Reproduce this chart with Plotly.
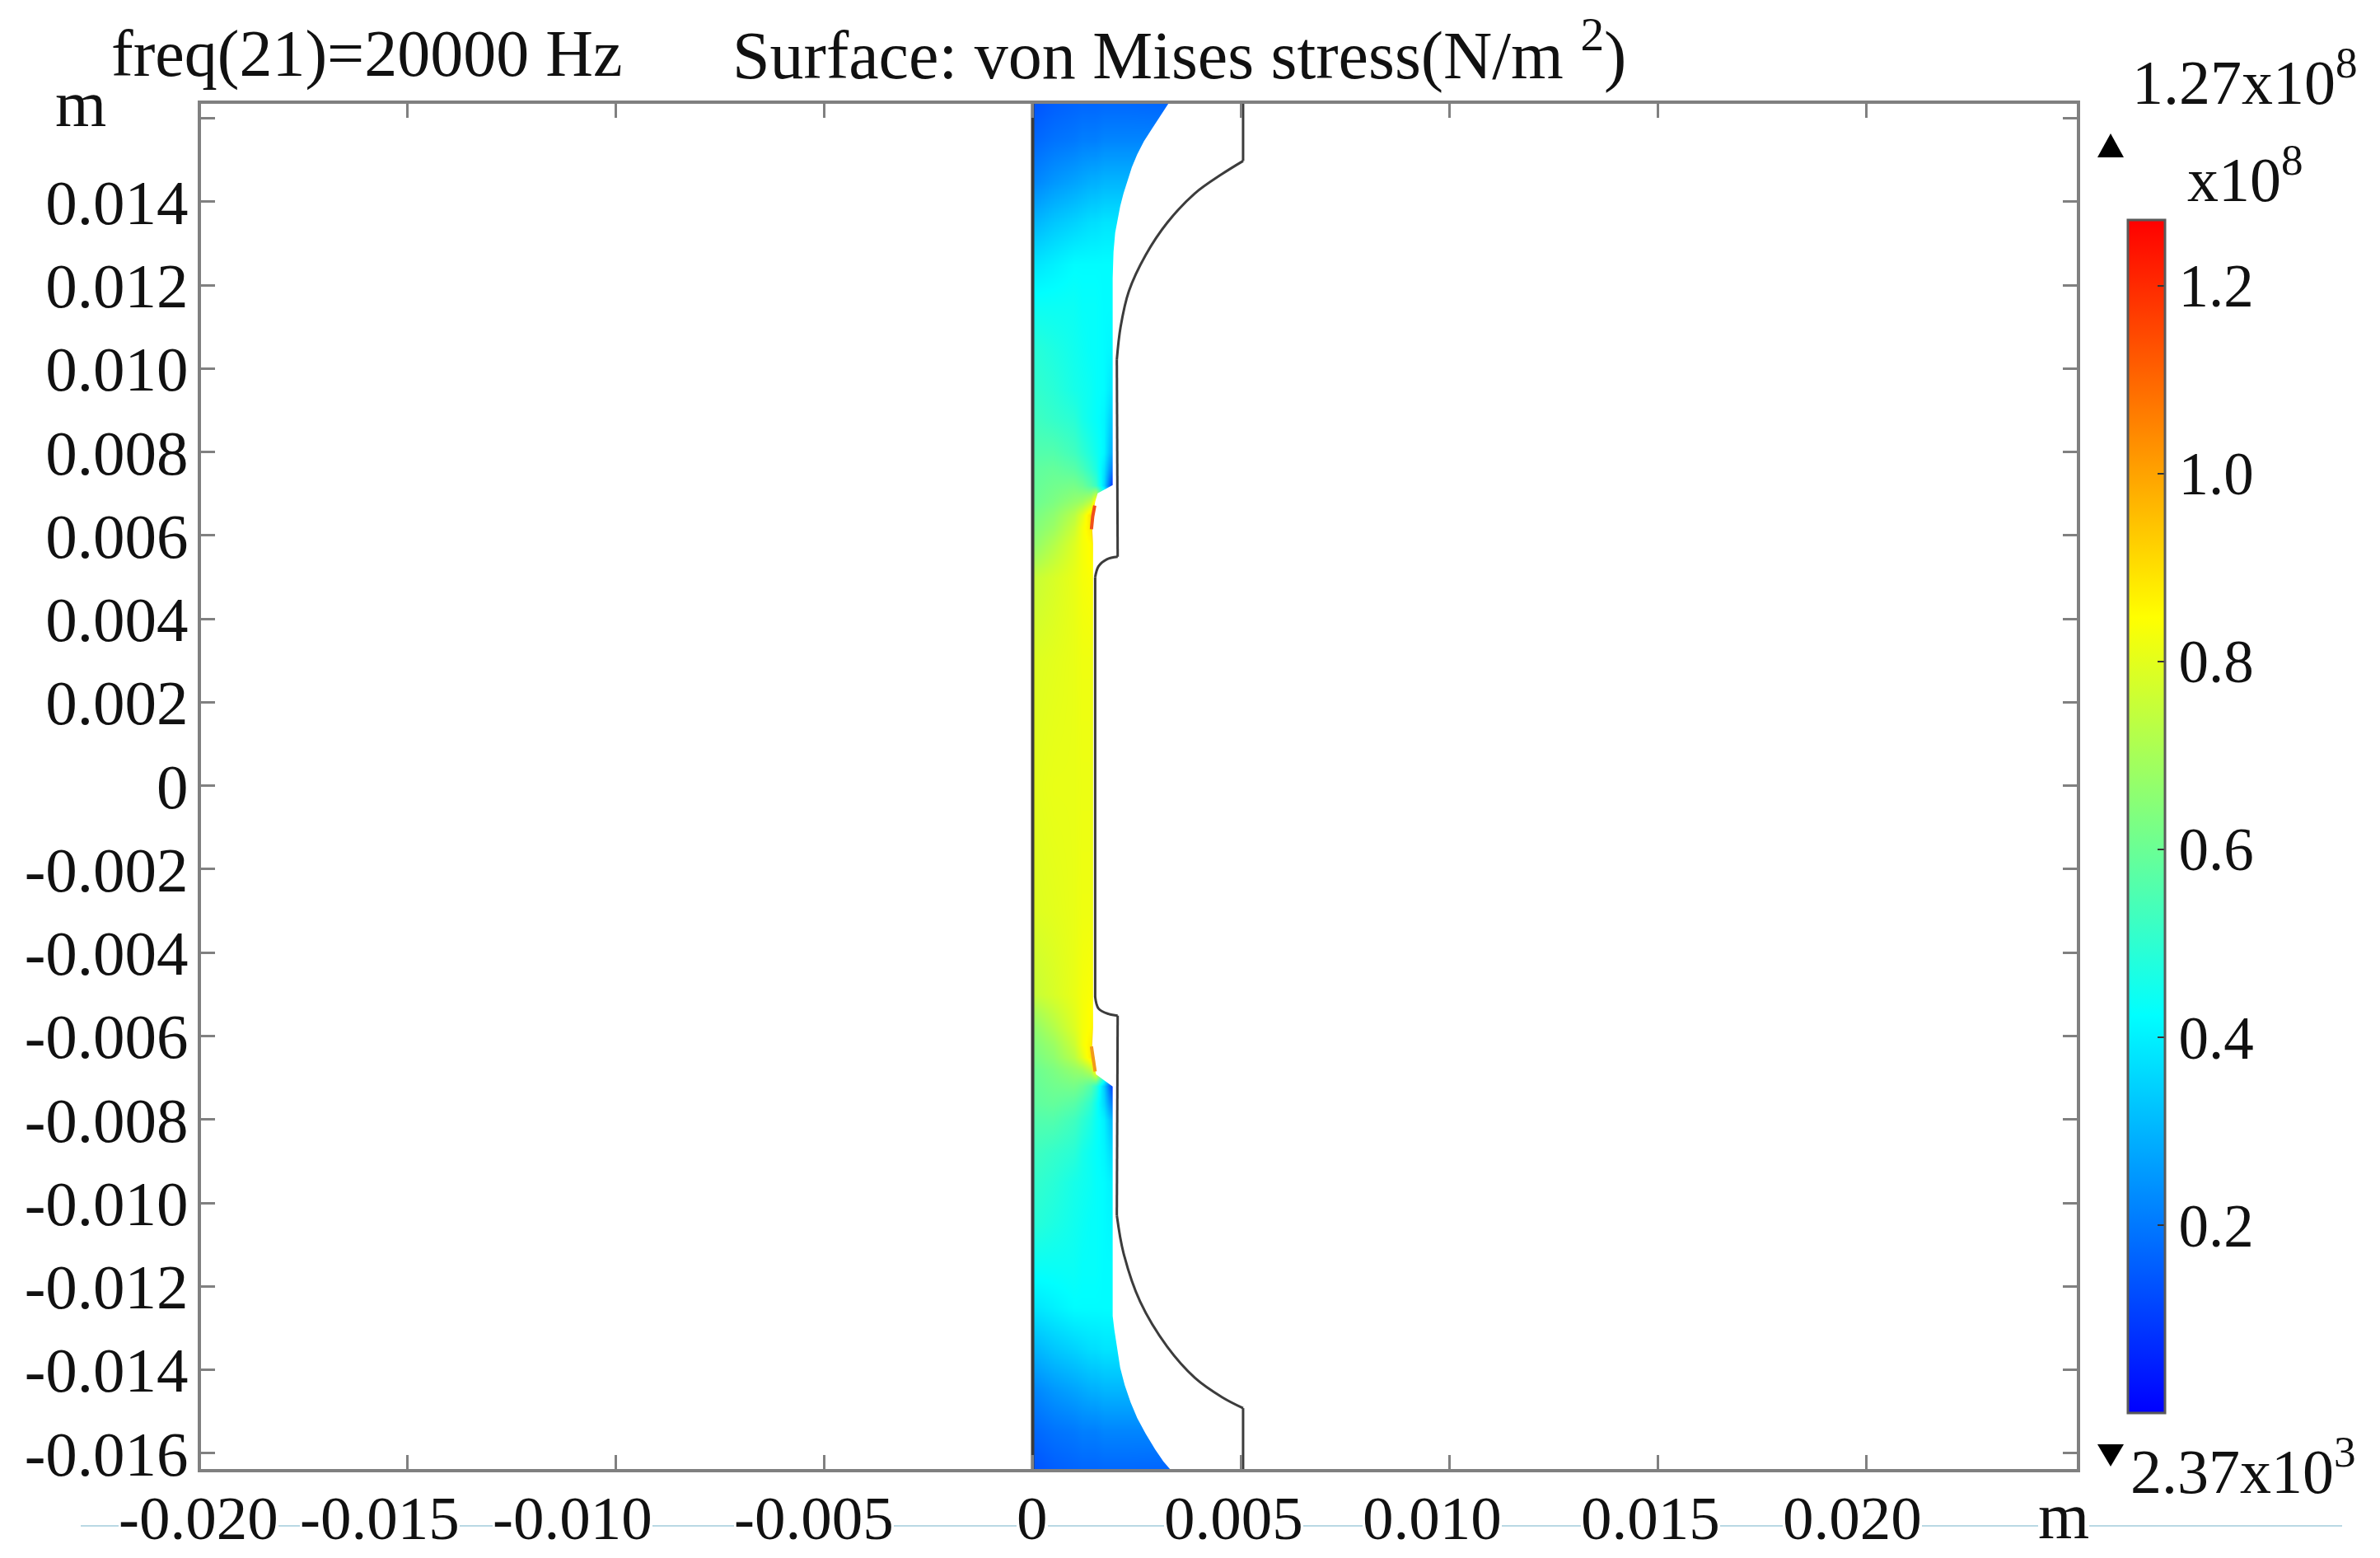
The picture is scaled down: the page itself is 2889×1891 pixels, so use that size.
import plotly.graph_objects as go

W, H = 2889, 1891
L, R, T, B = 244, 2521, 126, 1783
BODY = 8  # default page margin round the figure
FONT = "Liberation Serif"

# ---- data (stress in units of 1e8 N/m^2) ----
field_x = [0, 0.0005, 0.001, 0.0012, 0.0014, 0.0015, 0.0017, 0.0019, 0.0023, 0.0036]
field_y = [0.0168, 0.0155, 0.0145, 0.0135, 0.0125, 0.0115, 0.0105, 0.0095, 0.0088, 0.008,
           0.0076, 0.0072, 0.0068, 0.0065, 0.0062, 0.0058, 0.0054, 0.005, 0.003, 0,
           -0.003, -0.005, -0.0054, -0.0058, -0.0062, -0.0065, -0.0068, -0.0072, -0.0076, -0.008,
           -0.0088, -0.0095, -0.0105, -0.0115, -0.0125, -0.0135, -0.0145, -0.0155, -0.0168]
field_z = [
    [.12, .14, .15, .15, .15, .15, .15, .15, .15, .14],
    [.17, .19, .20, .21, .21, .21, .22, .22, .22, .22],
    [.22, .25, .27, .28, .29, .29, .30, .30, .30, .30],
    [.30, .33, .35, .36, .37, .37, .38, .38, .38, .38],
    [.38, .40, .42, .42, .42, .42, .42, .42, .42, .42],
    [.44, .44, .44, .43, .43, .43, .42, .42, .42, .42],
    [.49, .47, .45, .44, .43, .43, .42, .41, .41, .41],
    [.51, .49, .46, .45, .44, .43, .42, .38, .38, .38],
    [.53, .51, .49, .46, .44, .43, .41, .33, .33, .33],
    [.56, .56, .53, .50, .47, .45, .41, .28, .28, .28],
    [.58, .59, .57, .54, .50, .47, .38, .20, .20, .20],
    [.59, .61, .62, .60, .56, .52, .36, .08, .08, .08],
    [.60, .63, .67, .69, .74, .90, .60, .30, .30, .30],
    [.62, .66, .73, .80, .90, 1.20, .90, .80, .80, .80],
    [.635, .68, .76, .83, .88, 1.20, .90, .85, .85, .85],
    [.66, .72, .79, .83, .85, .90, .85, .85, .85, .85],
    [.70, .75, .80, .83, .85, .85, .85, .85, .85, .85],
    [.75, .78, .81, .83, .84, .84, .84, .84, .84, .84],
    [.79, .80, .81, .82, .82, .82, .82, .82, .82, .82],
    [.80, .81, .81, .815, .815, .815, .815, .815, .815, .815],
    [.79, .80, .81, .82, .82, .82, .82, .82, .82, .82],
    [.75, .78, .81, .83, .84, .84, .84, .84, .84, .84],
    [.70, .75, .80, .83, .85, .85, .85, .85, .85, .85],
    [.66, .72, .79, .83, .85, .90, .85, .85, .85, .85],
    [.635, .68, .76, .83, .87, 1.10, .90, .85, .85, .85],
    [.62, .66, .73, .80, .88, 1.10, .90, .80, .80, .80],
    [.60, .63, .67, .69, .74, .90, .60, .30, .30, .30],
    [.59, .61, .62, .60, .56, .50, .34, .10, .10, .10],
    [.58, .59, .57, .54, .50, .45, .36, .20, .20, .20],
    [.56, .56, .53, .50, .47, .44, .40, .30, .30, .30],
    [.53, .51, .49, .46, .44, .43, .41, .36, .36, .36],
    [.51, .49, .46, .45, .44, .43, .42, .40, .40, .40],
    [.49, .47, .45, .44, .43, .43, .42, .41, .41, .41],
    [.44, .44, .44, .43, .43, .43, .42, .42, .42, .42],
    [.38, .40, .42, .42, .42, .42, .42, .42, .42, .42],
    [.30, .33, .35, .36, .37, .37, .38, .38, .38, .38],
    [.22, .25, .27, .28, .29, .29, .30, .30, .30, .30],
    [.17, .19, .20, .21, .21, .21, .22, .22, .22, .22],
    [.12, .14, .15, .15, .15, .15, .15, .15, .15, .14],
]
z_min, z_max = 0.0000237, 1.27
cbar_ticks = [0.2, 0.4, 0.6, 0.8, 1.0, 1.2]
cbar_labels = ["0.2", "0.4", "0.6", "0.8", "1.0", "1.2"]

# right edge of the coloured (deformed) body, top to bottom
edge_x = [0.003267, 0.00307, 0.00287, 0.00267, 0.00251, 0.00238, 0.00228, 0.00218, 0.0021, 0.00204,
          0.00198, 0.00194, 0.00192, 0.00192, 0.00192, 0.00192,
          0.00156, 0.0015, 0.00142, 0.00145, 0.00145, 0.00142, 0.00152, 0.00192, 0.00192, 0.00192,
          0.00192, 0.00196, 0.00202, 0.0021, 0.00221, 0.00235, 0.00251, 0.00271, 0.00294, 0.00314, 0.00331]
edge_y = [0.01637, 0.01608, 0.01576, 0.01545, 0.01514, 0.01483, 0.01451, 0.0142, 0.01389, 0.01358,
          0.01326, 0.0128, 0.01217, 0.011, 0.009, 0.00721,
          0.00701, 0.00681, 0.00632, 0.0058, -0.0058, -0.0064, -0.00692, -0.00721, -0.009, -0.011,
          -0.01271, -0.01304, -0.01346, -0.01395, -0.01437, -0.01478, -0.01516, -0.01553, -0.01591, -0.0162, -0.0164]

# thin high-stress slivers along the notch edges
sliver_top_x = [0.00149, 0.00144, 0.00141]
sliver_top_y = [0.00672, 0.00645, 0.00615]
sliver_bot_x = [0.00141, 0.00145, 0.0015]
sliver_bot_y = [-0.00625, -0.00655, -0.00685]

# undeformed outline pieces
arc_top_x = [0.00505, 0.00455, 0.00389, 0.00323, 0.00271, 0.00231, 0.00211, 0.00202]
arc_top_y = [0.01498, 0.01467, 0.0142, 0.0135, 0.01272, 0.01186, 0.011, 0.01022]
fil_top_x = [0.00204, 0.00178, 0.00158, 0.0015]
fil_top_y = [0.00549, 0.00543, 0.00526, 0.005]
fil_bot_x = [0.0015, 0.00158, 0.00182, 0.00204]
fil_bot_y = [-0.00506, -0.00534, -0.00547, -0.00551]
arc_bot_x = [0.00202, 0.00218, 0.00258, 0.00323, 0.0039, 0.00455, 0.00505]
arc_bot_y = [-0.0103, -0.0112, -0.01237, -0.01345, -0.0142, -0.01466, -0.01492]

x_ticks = [-0.015, -0.01, -0.005, 0, 0.005, 0.01, 0.015, 0.02]
x_tick_labels = ["-0.020", "-0.015", "-0.010", "-0.005", "0", "0.005", "0.010", "0.015", "0.020"]
x_label_centers_px = [241, 461, 695, 988, 1253, 1497, 1738, 2003, 2248]
y_ticks = [0.016, 0.014, 0.012, 0.01, 0.008, 0.006, 0.004, 0.002, 0,
           -0.002, -0.004, -0.006, -0.008, -0.01, -0.012, -0.014, -0.016]
y_tick_labels = ["", "0.014", "0.012", "0.010", "0.008", "0.006", "0.004", "0.002", "0",
                 "-0.002", "-0.004", "-0.006", "-0.008", "-0.010", "-0.012", "-0.014", "-0.016"]

X_RANGE = [-0.01996, 0.02506]
Y_RANGE = [-0.01638, 0.01635]
GRAY = "#808080"
INK = "#3c3c3c"


def px(x):
    return (x - L) / (R - L)


def py(y):
    return (B - y) / (B - T)


fig = go.Figure()
fig.add_trace(go.Heatmap(
    x=field_x, y=field_y, z=field_z, zmin=z_min, zmax=z_max, zsmooth="best",
    colorscale=[[0, "#0000ff"], [1 / 3, "#00ffff"], [2 / 3, "#ffff00"], [1, "#ff0000"]],
    hoverinfo="skip",
    colorbar=dict(
        x=px(2583), xanchor="left", xref="paper", y=py(267), yanchor="top", yref="paper",
        lenmode="pixels", len=1448, thicknessmode="pixels", thickness=45,
        xpad=0, ypad=0, outlinewidth=3, outlinecolor="#5a5a5a", borderwidth=0,
        tickmode="array", tickvals=cbar_ticks, ticktext=cbar_labels,
        ticks="inside", ticklen=10, tickwidth=2, tickcolor="#333333",
        tickfont=dict(family=FONT, size=73, color="#111111"),
    ),
))
# white mask right of the deformed body and left of x = 0
mask_x = edge_x + [0.0048, 0.0048]
mask_y = edge_y + [-0.0168, 0.0168]
fig.add_trace(go.Scatter(x=mask_x, y=mask_y, mode="lines", fill="toself", fillcolor="white",
                         line=dict(width=0), hoverinfo="skip", showlegend=False))
fig.add_trace(go.Scatter(x=[-0.003, 0, 0, -0.003], y=[0.0168, 0.0168, -0.0168, -0.0168], mode="lines",
                         fill="toself", fillcolor="white", line=dict(width=0),
                         hoverinfo="skip", showlegend=False))
fig.add_trace(go.Scatter(x=sliver_top_x, y=sliver_top_y, mode="lines", hoverinfo="skip", showlegend=False,
                         line=dict(color="#f0501a", width=4)))
fig.add_trace(go.Scatter(x=sliver_bot_x, y=sliver_bot_y, mode="lines", hoverinfo="skip", showlegend=False,
                         line=dict(color="#f29a1a", width=4)))


def outline(xs, ys, shape="linear", width=3):
    fig.add_trace(go.Scatter(x=xs, y=ys, mode="lines", hoverinfo="skip", showlegend=False,
                             line=dict(color=INK, width=width, shape=shape, smoothing=1.0)))


outline([0, 0], [0.0168, -0.0168], width=4)
outline([0.00505, 0.00505], [0.0168, arc_top_y[0]])
outline(arc_top_x, arc_top_y, "spline")
outline([0.00202, 0.00204], [arc_top_y[-1], fil_top_y[0]])
outline(fil_top_x, fil_top_y, "spline")
outline([0.0015, 0.0015], [fil_top_y[-1], fil_bot_y[0]])
outline(fil_bot_x, fil_bot_y, "spline")
outline([0.00204, 0.00202], [fil_bot_y[-1], arc_bot_y[0]])
outline(arc_bot_x, arc_bot_y, "spline")
outline([0.00505, 0.00505], [arc_bot_y[-1], -0.0168])

axis_common = dict(showgrid=False, zeroline=False, showline=True, linecolor=GRAY, linewidth=4,
                   mirror="ticks", ticks="inside", ticklen=17, tickwidth=3, tickcolor=GRAY)
fig.update_xaxes(range=X_RANGE, tickmode="array", tickvals=x_ticks, showticklabels=False, **axis_common)
fig.update_yaxes(range=Y_RANGE, tickmode="array", tickvals=y_ticks, ticktext=y_tick_labels,
                 tickfont=dict(family=FONT, size=77, color="#111111"), ticklabelstandoff=-4, **axis_common)


def label(text, x_px, y_px, size=75, anchor="left", bg=None):
    fig.add_annotation(text=text, x=px(x_px), y=py(y_px), xref="paper", yref="paper",
                       xanchor=anchor, yanchor="middle", showarrow=False, borderpad=0, borderwidth=0,
                       align=anchor, bgcolor=bg,
                       font=dict(family=FONT, size=size, color="#111111"))


label("freq(21)=20000 Hz", 135, 66, 80)
label("Surface: von Mises stress(N/m <sup>2</sup>)", 889, 61, 82)
label("m", 67, 126, 80)
label("m", 2474, 1840, 80, bg="white")
label("1.27x10<sup>8</sup>", 2588, 95, 76)
label("x10<sup>8</sup>", 2655, 213, 76)
label("2.37x10<sup>3</sup>", 2586, 1780, 76)
for text, centre in zip(x_tick_labels, x_label_centers_px):
    label(text, centre, 1842, 75, anchor="center", bg="white")


def triangle(x0, x1, base, tip):
    xm = (x0 + x1) / 2
    return dict(type="path", xref="paper", yref="paper", fillcolor="black", line=dict(width=0),
                path=f"M {px(x0)} {py(base)} L {px(x1)} {py(base)} L {px(xm)} {py(tip)} Z")


fig.update_layout(
    width=W - 2 * BODY, height=H - 2 * BODY, autosize=False, template=None,
    paper_bgcolor="white", plot_bgcolor="white",
    margin=dict(l=L - BODY, r=W - BODY - R, t=T - BODY, b=H - BODY - B, pad=0), showlegend=False,
    shapes=[
        triangle(2546, 2578, 191, 162),
        triangle(2546, 2578, 1753, 1780),
        dict(type="line", xref="paper", yref="paper", layer="below",
             x0=px(98), x1=px(2843), y0=py(1852), y1=py(1852), line=dict(color="#b9d8e4", width=2)),
    ],
)
fig.write_html("out.html")
